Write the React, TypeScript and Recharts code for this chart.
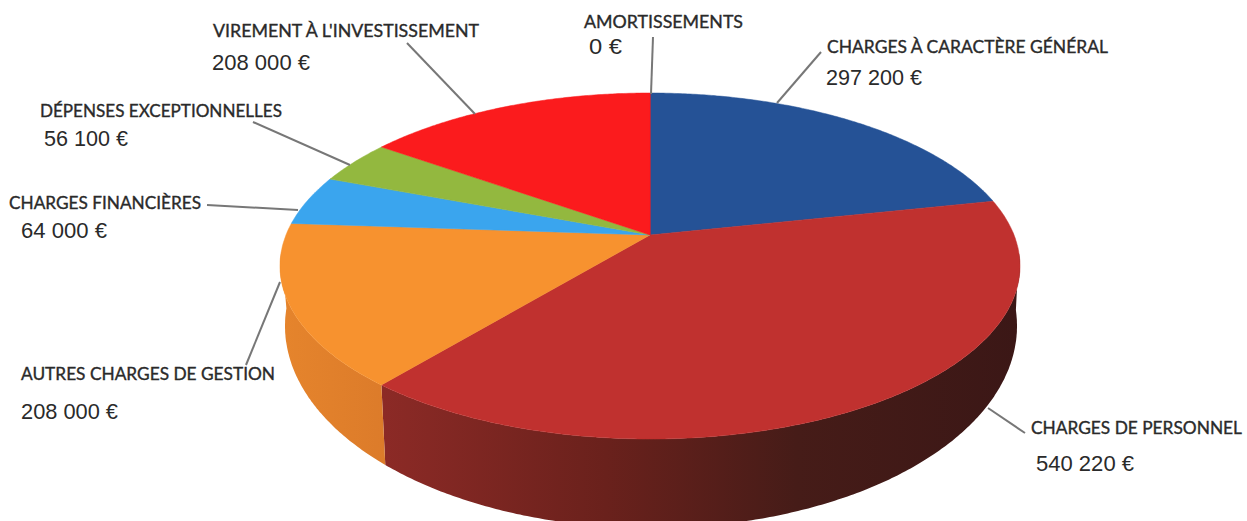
import { PieChart, Pie, Cell } from 'recharts';

const categories = [
  'CHARGES À CARACTÈRE GÉNÉRAL',
  'CHARGES DE PERSONNEL',
  'AUTRES CHARGES DE GESTION',
  'CHARGES FINANCIÈRES',
  'DÉPENSES EXCEPTIONNELLES',
  "VIREMENT À L'INVESTISSEMENT",
  'AMORTISSEMENTS',
];
const amounts = [297200, 540220, 208000, 64000, 56100, 208000, 0];
const valueLabels = ['297 200 €', '540 220 €', '208 000 €', '64 000 €', '56 100 €', '208 000 €', '0 €'];

const topColors = ['#255296', '#c0312f', '#f7922f', '#3aa5ee', '#93b83f', '#fb1b1d', '#fb1b1d'];
const wallFills = ['none', 'url(#wallRed)', 'url(#wallOrange)', 'none', 'none', 'none', 'none'];

// [name x, name width, name baseline, value x, value width, value baseline, line x1, y1, x2, y2]
const labelLayout = [
  [827, 281, 53, 826, 96, 85, 821, 52, 777, 103],
  [1031, 211, 434, 1036, 98, 471, 1025, 433, 988, 408],
  [21, 254, 380, 21, 97, 419, 246, 365, 280, 282],
  [9, 192, 209, 21, 86, 238, 207, 205, 298, 210],
  [40, 242, 117, 44, 84, 146, 253, 122, 350, 165],
  [213, 266, 37, 212, 98, 70, 407, 43, 475, 114],
  [584, 159, 28, 589, 33, 54, 653, 37, 651, 94],
];

const chartData = categories.map((name, i) => ({ name, value: amounts[i] }));

// top face: ellipse, with the pie centre pushed back by perspective
const RY_RATIO = 173 / 370;
const CENTER_SHIFT = 31 / 173;
// bottom rim of the wall
const RIM = { cx: 651, cy: 326, rx: 366, ry: 202 };
const WALL_FROM = 85;
const WALL_TO = 275;

const rad = (d: number) => (d * Math.PI) / 180;

// clockwise angle from the top of the disc -> sin/cos on the drawn ellipse
function project(theta: number) {
  const u = Math.sin(rad(theta));
  const v = Math.cos(rad(theta));
  const e = CENTER_SHIFT;
  const d = 1 + e * v;
  return { u: (u * Math.sqrt(1 - e * e)) / d, v: (v + e) / d };
}

function PerspectiveSector(props: any) {
  const { cx, cy, outerRadius, startAngle, endAngle, fill, index } = props;
  const rx = outerRadius;
  const ry = outerRadius * RY_RATIO;
  const th1 = 90 - startAngle;
  const th2 = 90 - endAngle;

  const topPt = (th: number) => {
    const p = project(th);
    return [cx + rx * p.u, cy - ry * p.v];
  };
  const rimPt = (th: number) => {
    const p = project(th);
    return [RIM.cx + RIM.rx * p.u, RIM.cy - RIM.ry * p.v];
  };
  const tOf = (th: number) => {
    const p = project(th);
    const t = (Math.atan2(p.u, p.v) * 180) / Math.PI;
    return t < 0 ? t + 360 : t;
  };

  const samples: number[] = [];
  const steps = Math.max(2, Math.ceil((th2 - th1) * 2));
  for (let i = 0; i <= steps; i++) samples.push(th1 + ((th2 - th1) * i) / steps);

  const apex = [cx, cy - ry * CENTER_SHIFT];
  const topPath =
    `M${apex[0]},${apex[1]} ` +
    samples.map((th) => { const q = topPt(th); return `L${q[0].toFixed(1)},${q[1].toFixed(1)}`; }).join(' ') +
    ' Z';

  const wallFill = wallFills[index];
  const visible = samples.filter((th) => tOf(th) >= WALL_FROM && tOf(th) <= WALL_TO);
  let wallPath = '';
  if (wallFill !== 'none' && visible.length > 1) {
    const upper = visible.map(topPt);
    const lower = visible.map(rimPt).reverse();
    wallPath = 'M' + [...upper, ...lower].map((q) => `${q[0].toFixed(1)},${q[1].toFixed(1)}`).join(' L') + ' Z';
  }

  return (
    <g>
      {wallPath && <path d={wallPath} fill={wallFill} stroke="none" />}
      <path d={topPath} fill={fill} stroke={fill} strokeWidth={0.5} />
    </g>
  );
}

function renderLabel(props: any) {
  const { index } = props;
  const [nx, nw, ny, vx, vw, vy, x1, y1, x2, y2] = labelLayout[index];
  return (
    <g key={index}>
      <line x1={x1} y1={y1} x2={x2} y2={y2} stroke="#777777" strokeWidth={2} />
      <text
        x={nx}
        y={ny}
        textLength={nw}
        lengthAdjust="spacingAndGlyphs"
        fontFamily="Lato"
        fontSize={17}
        fill="#2a2a2a"
        stroke="#2a2a2a"
        strokeWidth={0.35}
      >
        {categories[index]}
      </text>
      <text x={vx} y={vy} textLength={vw} lengthAdjust="spacingAndGlyphs" fontFamily="Liberation Sans, Arial" fontSize={22} fill="#2a2a2a">
        {valueLabels[index]}
      </text>
    </g>
  );
}

export default function App() {
  return (
    <div style={{ position: 'absolute', left: 0, top: 0, width: 1247, height: 521, background: '#fff', overflow: 'hidden' }}>
      <PieChart width={1247} height={521} margin={{ top: 0, right: 0, bottom: 0, left: 0 }}>
        <defs>
          <linearGradient id="wallRed" gradientUnits="userSpaceOnUse" x1={382} y1={0} x2={1020} y2={0}>
            <stop offset="0%" stopColor="#8c2a26" />
            <stop offset="35%" stopColor="#6a211c" />
            <stop offset="65%" stopColor="#461c18" />
            <stop offset="100%" stopColor="#3b1716" />
          </linearGradient>
          <linearGradient id="wallOrange" gradientUnits="userSpaceOnUse" x1={285} y1={0} x2={388} y2={0}>
            <stop offset="0%" stopColor="#e5842c" />
            <stop offset="100%" stopColor="#dc7b2a" />
          </linearGradient>
        </defs>
        <Pie
          data={chartData}
          dataKey="value"
          nameKey="name"
          cx={650}
          cy={266}
          outerRadius={370}
          startAngle={90}
          endAngle={-270}
          stroke="none"
          shape={PerspectiveSector}
          label={renderLabel}
          labelLine={false}
          isAnimationActive={false}
        >
          {chartData.map((d, i) => (
            <Cell key={d.name} fill={topColors[i]} />
          ))}
        </Pie>
      </PieChart>
    </div>
  );
}
